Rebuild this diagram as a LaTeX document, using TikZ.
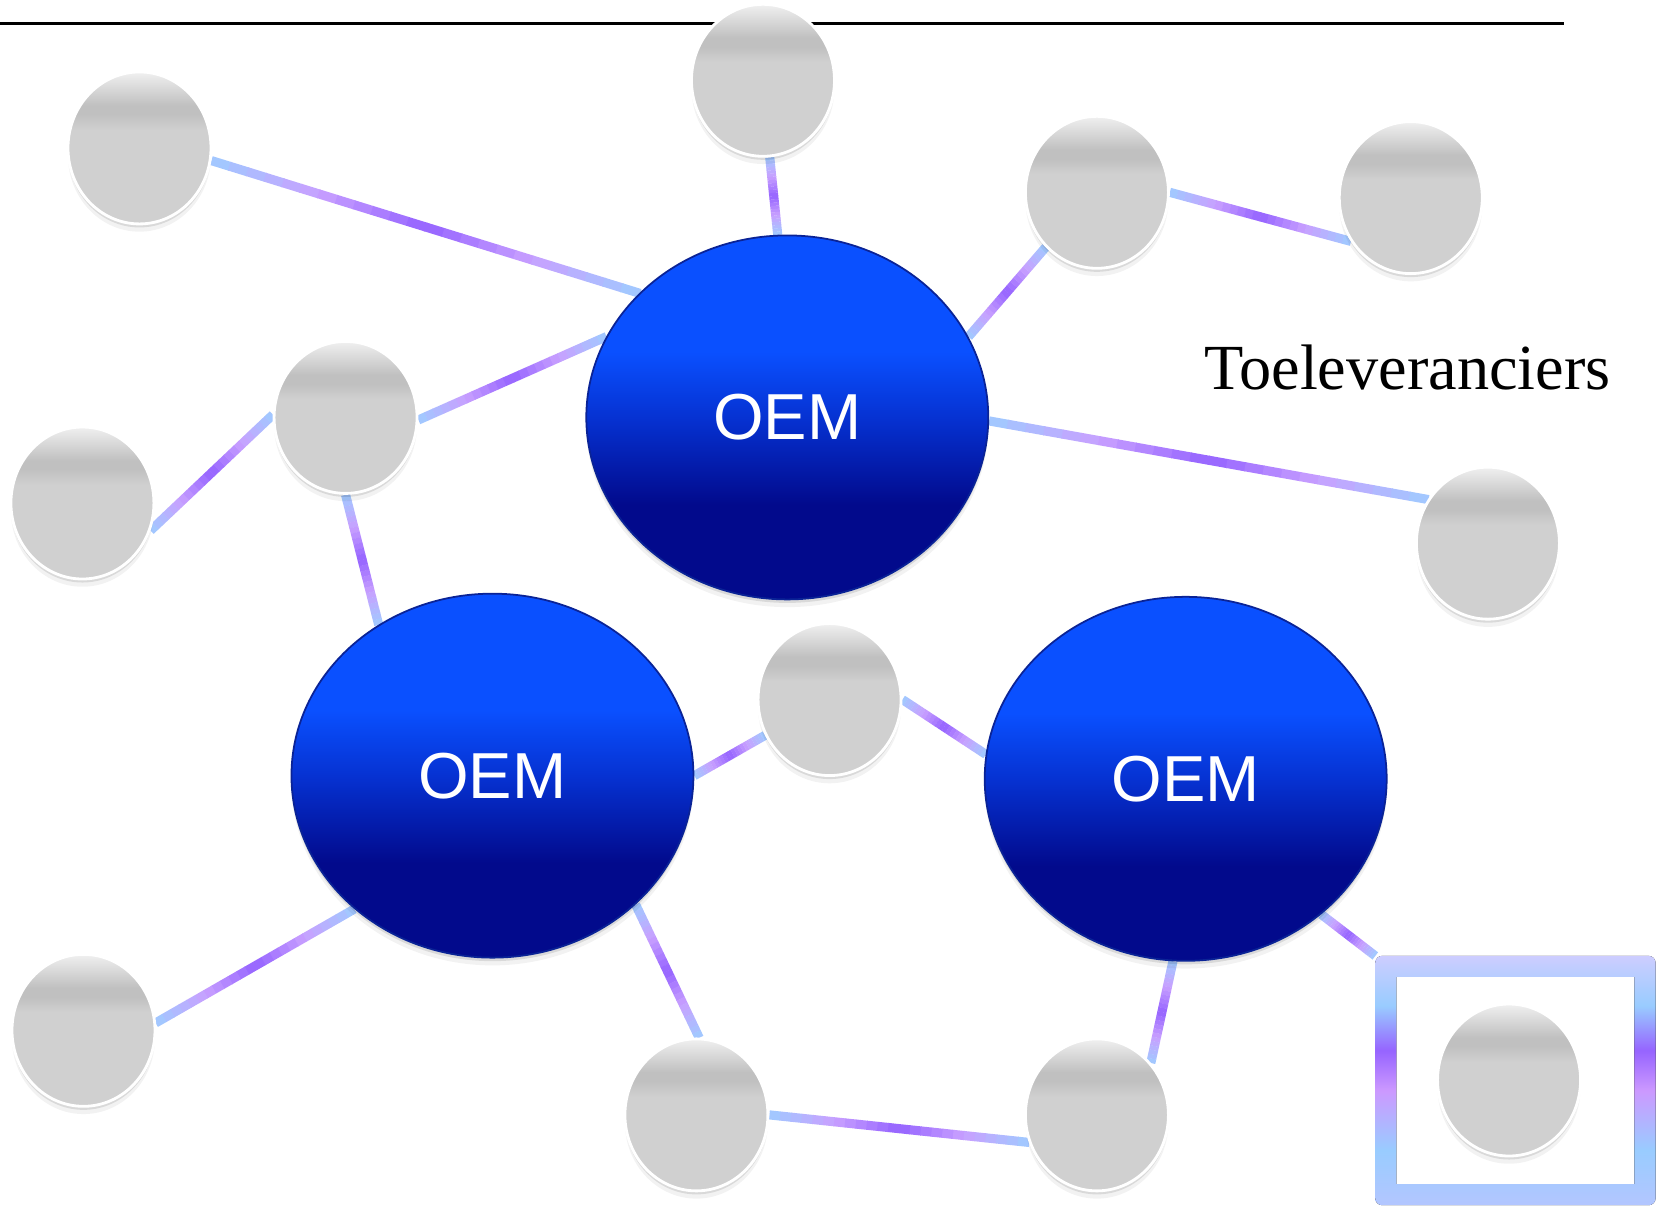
\documentclass[tikz,border=0pt]{standalone}
\usepackage{fontspec}
\usepackage{tikz}
\usetikzlibrary{arrows,backgrounds,calc,shapes.geometric,shadows}
\pgfdeclarelayer{background}
\pgfsetlayers{background,main}

\newfontfamily\oemfont{Liberation Sans}
\newfontfamily\labelfont{Liberation Serif}

\definecolor{linkblue}{RGB}{160,202,255}
\definecolor{linklav}{RGB}{200,160,255}
\definecolor{linkpurple}{RGB}{150,100,255}
\definecolor{oemlight}{RGB}{10,80,255}
\definecolor{oemmid}{RGB}{6,50,210}
\definecolor{oemdark}{RGB}{2,10,140}
\definecolor{oemedge}{RGB}{10,35,150}
\definecolor{ballhi}{RGB}{240,240,240}
\definecolor{ballband}{RGB}{192,192,192}
\definecolor{ballbody}{RGB}{208,208,208}
\definecolor{framebot}{RGB}{179,198,255}
\definecolor{frameblue}{RGB}{153,204,255}
\definecolor{framepink}{RGB}{204,153,255}
\definecolor{framelav}{RGB}{205,205,255}

% shadings: 25bp..75bp is mapped onto the path
\pgfdeclareverticalshading{oemshade}{100bp}{color(0bp)=(oemdark); color(38bp)=(oemdark); color(50bp)=(oemmid); color(59bp)=(oemlight); color(100bp)=(oemlight)}
\pgfdeclareverticalshading{ballshade}{100bp}{color(0bp)=(ballbody); color(56bp)=(ballbody); color(61bp)=(ballband); color(64bp)=(ballband); color(75bp)=(ballhi); color(100bp)=(ballhi)}
\pgfdeclareverticalshading{frameshade}{100bp}{color(0bp)=(framebot); color(25bp)=(framebot); color(36bp)=(frameblue); color(48bp)=(framepink); color(56bp)=(linkpurple); color(65bp)=(frameblue); color(75bp)=(framelav); color(100bp)=(framelav)}

\tikzset{
  softshadow/.style={
    general shadow={fill=black, opacity=0.05, shadow yshift=-2.2pt},
    general shadow={fill=black, opacity=0.10, shadow yshift=-1pt}},
  oem/.style={ellipse, shading=oemshade, draw=oemedge, line width=0.5pt,
    minimum width=40.2mm, minimum height=36.4mm, inner sep=0pt, text=white,
    font=\oemfont\fontsize{18.5}{22}\selectfont, softshadow},
  supplier/.style={ellipse, shading=ballshade, draw=white, line width=0.8pt,
    minimum width=14.3mm, minimum height=15.2mm, inner sep=0pt, softshadow},
  link/.style={line width=2.6pt}
}

% gradient connector: blue at the ends, purple in the middle
\newcommand{\supplink}[2]{%
  \coordinate (ls) at (#1);
  \coordinate (le) at (#2);
  \foreach \k in {0,...,23}{%
    \pgfmathsetmacro{\lpos}{1-abs(2*(\k+0.5)/24-1)}%
    \pgfmathtruncatemacro{\mixa}{min(100,200*\lpos)}%
    \pgfmathtruncatemacro{\mixb}{max(0,200*\lpos-100)}%
    \pgfmathsetmacro{\ta}{\k/24}%
    \pgfmathsetmacro{\tb}{(\k+1.05)/24}%
    \colorlet{segcol}{linklav!\mixa!linkblue}%
    \draw[link, draw=linkpurple!\mixb!segcol] ($(ls)!\ta!(le)$) -- ($(ls)!\tb!(le)$);
  }%
}

\begin{document}
\begin{tikzpicture}[x=0.10568mm, y=-0.10568mm]
  \useasboundingbox (0,0) rectangle (1568,1143);

  \node[oem] (O1) at (745,395) {OEM};
  \node[oem] (O2) at (466,734) {OEM};
  \node[oem] (O3) at (1122,737) {OEM};

  \node[supplier] (T1) at (132,140) {};
  \node[supplier] (T2) at (722,76) {};
  \node[supplier] (T3) at (1038,182) {};
  \node[supplier] (T4) at (1335,187) {};
  \node[supplier] (T5) at (327,395) {};
  \node[supplier] (T6) at (78,476) {};
  \node[supplier] (T7) at (1408,514) {};
  \node[supplier] (T8) at (785,662) {};
  \node[supplier] (T9) at (79,975) {};
  \node[supplier] (T10) at (659,1055) {};
  \node[supplier] (T11) at (1038,1055) {};
  \node[supplier] (T12) at (1428,1022) {};

  \node[inner sep=0pt, minimum width=27.9mm, minimum height=24.8mm] (sel) at (1434,1022.5) {};
  \node[anchor=base, font=\labelfont\fontsize{18.3}{22}\selectfont] (lbl) at (1332,369) {Toeleveranciers};

  \begin{pgfonlayer}{background}
    \coordinate (ruleL) at (0,22);
    \coordinate (ruleR) at (1480,22);
    \draw[line width=0.8pt] (ruleL) -- (ruleR);

    \supplink{T1.-10}{O1.140}
    \supplink{T2.-85}{O1.93}
    \supplink{O1.24}{T3.227}
    \supplink{T3.0}{T4.216}
    \supplink{O1.-1}{T7.144}
    \supplink{T5.-2}{O1.156}
    \supplink{T6.-22}{T5.178}
    \supplink{T5.-90}{O2.127}
    \supplink{O2.0}{T8.209}
    \supplink{T8.0}{O3.173}
    \supplink{O2.224}{T9.6}
    \supplink{O2.-42}{T10.88}
    \supplink{T10.0}{T11.202}
    \supplink{O3.-94}{T11.44}
    \supplink{O3.-45}{sel.north west}

    \fill[shading=frameshade, even odd rule, rounded corners=2pt]
      (sel.north west) rectangle (sel.south east)
      [sharp corners] ($(sel.north west)+(20,20)$) rectangle ($(sel.south east)+(-20,-20)$);
  \end{pgfonlayer}
\end{tikzpicture}
\end{document}
